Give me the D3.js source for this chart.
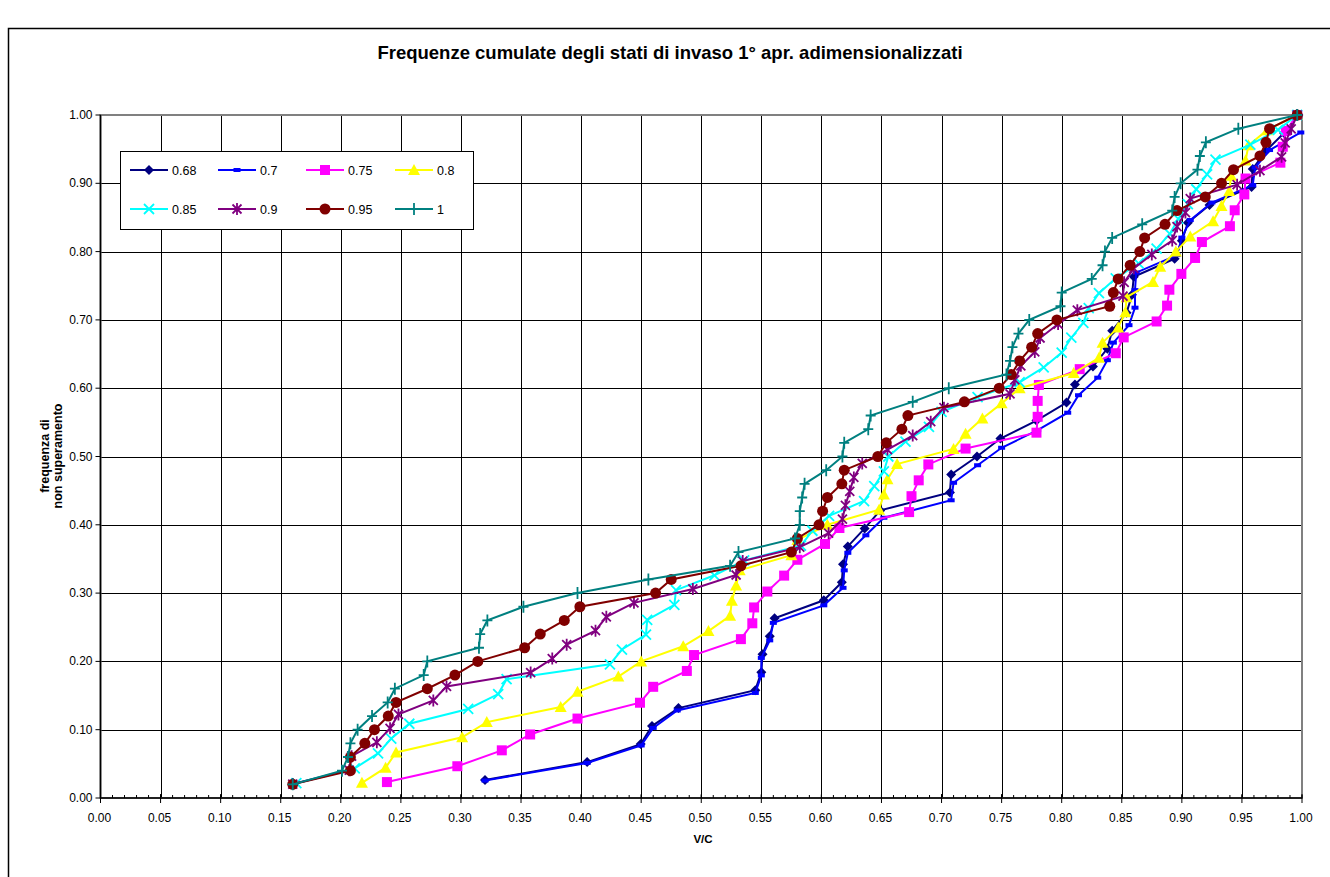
<!DOCTYPE html>
<html>
<head>
<meta charset="utf-8">
<script src="https://cdn.jsdelivr.net/npm/d3@7"></script>
<style>
  body { margin: 0; background: #fff; }
  svg { font-family: "Liberation Sans", Arial, sans-serif; }
</style>
</head>
<body>
<svg id="chart" width="1330" height="877"></svg>
<script>
// series legend names
const names = ['0.68', '0.7', '0.75', '0.8', '0.85', '0.9', '0.95', '1']

// [V/C, frequenza]
const s068 = [[0.32,0.0263],[0.405,0.0526],[0.4496,0.0789],[0.459,0.1053],[0.481,0.1316],[0.545,0.1579],[0.55,0.1842],[0.551,0.2105],[0.557,0.2368],[0.561,0.2632],[0.602,0.2895],[0.617,0.3158],[0.618,0.3421],[0.622,0.3684],[0.636,0.3947],[0.649,0.4211],[0.707,0.4474],[0.708,0.4737],[0.7295,0.5],[0.749,0.5263],[0.779,0.5526],[0.804,0.5789],[0.811,0.6053],[0.826,0.6316],[0.838,0.6579],[0.842,0.6842],[0.854,0.7105],[0.8585,0.7368],[0.86,0.7632],[0.894,0.7895],[0.9,0.8158],[0.905,0.8421],[0.923,0.8684],[0.958,0.8947],[0.959,0.9211],[0.97,0.9474],[0.985,0.9737],[0.997,1.0]]
const s070 = [[0.32,0.0256],[0.405,0.0513],[0.45,0.0769],[0.46,0.1026],[0.48,0.1282],[0.545,0.1538],[0.55,0.1795],[0.55,0.2051],[0.557,0.2308],[0.56,0.2564],[0.602,0.2821],[0.618,0.3077],[0.619,0.3333],[0.622,0.359],[0.637,0.3846],[0.652,0.4103],[0.708,0.4359],[0.71,0.4615],[0.73,0.4872],[0.75,0.5128],[0.78,0.5385],[0.805,0.5641],[0.814,0.5897],[0.83,0.6154],[0.838,0.641],[0.843,0.6667],[0.856,0.6923],[0.861,0.7179],[0.861,0.7436],[0.862,0.7692],[0.896,0.7949],[0.9,0.8205],[0.907,0.8462],[0.925,0.8718],[0.959,0.8974],[0.961,0.9231],[0.973,0.9487],[0.999,0.9744]]
const s075 = [[0.2384,0.0233],[0.297,0.0465],[0.334,0.0698],[0.3576,0.093],[0.397,0.1163],[0.449,0.1395],[0.46,0.1628],[0.488,0.186],[0.494,0.2093],[0.533,0.2326],[0.5425,0.2558],[0.544,0.279],[0.555,0.3023],[0.569,0.3256],[0.58,0.3488],[0.603,0.372],[0.615,0.3953],[0.673,0.4186],[0.675,0.4419],[0.681,0.4651],[0.689,0.4884],[0.72,0.5116],[0.779,0.5349],[0.78,0.5581],[0.78,0.5814],[0.781,0.6047],[0.815,0.6279],[0.845,0.6512],[0.8516,0.6744],[0.879,0.6977],[0.8877,0.7209],[0.8896,0.7442],[0.8996,0.7674],[0.911,0.7907],[0.9167,0.814],[0.94,0.8372],[0.944,0.8605],[0.952,0.8837],[0.953,0.907],[0.982,0.9302],[0.984,0.9535],[0.9866,0.9767],[0.996,1.0]]
const s080 = [[0.2176,0.0222],[0.2373,0.0444],[0.246,0.0667],[0.301,0.0889],[0.3215,0.1111],[0.383,0.1333],[0.397,0.1556],[0.431,0.1778],[0.45,0.2],[0.485,0.2222],[0.506,0.2444],[0.524,0.2667],[0.5255,0.2889],[0.529,0.3111],[0.532,0.3333],[0.575,0.3556],[0.58,0.3778],[0.605,0.4],[0.648,0.4222],[0.652,0.4444],[0.655,0.4667],[0.663,0.4889],[0.71,0.5111],[0.72,0.5333],[0.734,0.5556],[0.75,0.5778],[0.765,0.6],[0.81,0.6222],[0.831,0.6444],[0.834,0.6667],[0.847,0.6889],[0.853,0.7111],[0.854,0.7333],[0.876,0.7556],[0.882,0.7778],[0.895,0.8],[0.907,0.8222],[0.926,0.8444],[0.933,0.8667],[0.9395,0.8889],[0.941,0.9111],[0.953,0.9333],[0.9555,0.9556],[0.971,0.9778],[0.996,1.0]]
const s085 = [[0.163,0.0217],[0.2116,0.0435],[0.231,0.0652],[0.242,0.087],[0.257,0.1087],[0.306,0.1304],[0.331,0.1522],[0.338,0.1739],[0.424,0.1957],[0.434,0.2174],[0.454,0.2391],[0.455,0.2609],[0.4776,0.2826],[0.479,0.3043],[0.511,0.3261],[0.5357,0.3478],[0.583,0.3696],[0.5925,0.3913],[0.6064,0.413],[0.6355,0.4348],[0.644,0.4565],[0.652,0.4783],[0.6557,0.5],[0.67,0.5217],[0.6895,0.5435],[0.70,0.5652],[0.73,0.587],[0.765,0.6087],[0.785,0.6304],[0.80,0.6522],[0.808,0.6739],[0.818,0.6957],[0.8225,0.7174],[0.831,0.7391],[0.845,0.7609],[0.864,0.7826],[0.879,0.8043],[0.89,0.8261],[0.897,0.8478],[0.905,0.8696],[0.912,0.8913],[0.921,0.913],[0.928,0.9348],[0.957,0.9565],[0.98,0.9783],[0.996,1.0]]
const s090 = [[0.16,0.0204],[0.207,0.0408],[0.209,0.0612],[0.23,0.0816],[0.241,0.102],[0.248,0.1224],[0.277,0.1429],[0.288,0.1633],[0.358,0.1837],[0.376,0.2041],[0.388,0.2245],[0.412,0.2449],[0.421,0.2653],[0.444,0.2857],[0.493,0.3061],[0.529,0.3265],[0.5345,0.3469],[0.582,0.3673],[0.606,0.3878],[0.6175,0.4082],[0.62,0.4286],[0.6236,0.449],[0.627,0.4694],[0.634,0.4898],[0.655,0.5102],[0.676,0.5306],[0.691,0.551],[0.702,0.5714],[0.757,0.5918],[0.761,0.6122],[0.766,0.6327],[0.7776,0.6531],[0.782,0.6735],[0.797,0.6939],[0.813,0.7143],[0.851,0.7347],[0.852,0.7551],[0.86,0.7755],[0.875,0.7959],[0.892,0.8163],[0.896,0.8367],[0.903,0.8571],[0.907,0.8776],[0.946,0.898],[0.965,0.9184],[0.983,0.9388],[0.986,0.9592],[0.991,0.9796],[0.996,1.0]]
const s095 = [[0.16,0.02],[0.208,0.04],[0.208,0.06],[0.22,0.08],[0.228,0.1],[0.2395,0.12],[0.246,0.14],[0.272,0.16],[0.295,0.18],[0.314,0.2],[0.353,0.22],[0.366,0.24],[0.386,0.26],[0.399,0.28],[0.462,0.3],[0.475,0.32],[0.533,0.34],[0.575,0.36],[0.58,0.38],[0.598,0.4],[0.601,0.42],[0.605,0.44],[0.617,0.46],[0.619,0.48],[0.647,0.5],[0.654,0.52],[0.667,0.54],[0.672,0.56],[0.719,0.58],[0.748,0.6],[0.758,0.62],[0.765,0.64],[0.775,0.66],[0.78,0.68],[0.796,0.7],[0.84,0.72],[0.843,0.74],[0.847,0.76],[0.857,0.78],[0.865,0.8],[0.869,0.82],[0.886,0.84],[0.896,0.86],[0.9195,0.88],[0.933,0.9],[0.943,0.92],[0.965,0.94],[0.97,0.96],[0.973,0.98],[0.996,1.0]]
const s100 = [[0.16,0.02],[0.201,0.04],[0.206,0.06],[0.208,0.08],[0.214,0.1],[0.226,0.12],[0.239,0.14],[0.245,0.16],[0.269,0.18],[0.272,0.2],[0.315,0.22],[0.316,0.24],[0.322,0.26],[0.352,0.28],[0.397,0.3],[0.456,0.32],[0.524,0.34],[0.531,0.36],[0.578,0.38],[0.582,0.4],[0.582,0.42],[0.584,0.44],[0.586,0.46],[0.604,0.48],[0.6175,0.5],[0.619,0.52],[0.639,0.54],[0.641,0.56],[0.676,0.58],[0.706,0.6],[0.754,0.62],[0.757,0.64],[0.759,0.66],[0.764,0.68],[0.773,0.7],[0.799,0.72],[0.8,0.74],[0.825,0.76],[0.834,0.78],[0.836,0.8],[0.842,0.82],[0.867,0.84],[0.892,0.86],[0.894,0.88],[0.899,0.9],[0.913,0.92],[0.915,0.94],[0.92,0.96],[0.947,0.98],[0.996,1.0]]

const allSeries = [s068, s070, s075, s080, s085, s090, s095, s100]
const colors = ['#000080', '#0000ff', '#ff00ff', '#ffff00', '#00ffff', '#800080', '#800000', '#008080']
const shapes = ['diamond', 'dash', 'square', 'triangle', 'cross', 'star', 'circle', 'plus']

const xTicks = d3.range(0, 21).map(i => i * 0.05)
const yTicks = d3.range(0, 11).map(i => i * 0.1)

const svg = d3.select('#chart')

// outer chart border
svg.append('rect')
  .attr('x', 8.5).attr('y', 28.5)
  .attr('width', 1340).attr('height', 880)
  .attr('fill', 'none').attr('stroke', '#000').attr('stroke-width', 1.5)

svg.append('text')
  .attr('x', 670).attr('y', 59)
  .attr('text-anchor', 'middle')
  .attr('font-size', '18.5px').attr('font-weight', 'bold')
  .text('Frequenze cumulate degli stati di invaso 1° apr. adimensionalizzati')

const xScale = d3.scaleLinear().domain([0, 1]).range([100.5, 1302])
const yScale = d3.scaleLinear().domain([0, 1]).range([798, 115])

const plot = svg.append('g')

// grid
plot.selectAll('line.vgrid')
  .data(xTicks.slice(1, -1))
  .enter()
  .append('line')
  .attr('x1', d => Math.round(xScale(d)) + 0.5).attr('x2', d => Math.round(xScale(d)) + 0.5)
  .attr('y1', yScale(1)).attr('y2', yScale(0))
  .attr('stroke', '#000').attr('stroke-width', 1)

plot.selectAll('line.hgrid')
  .data(yTicks.slice(1, -1))
  .enter()
  .append('line')
  .attr('y1', d => Math.round(yScale(d)) + 0.5).attr('y2', d => Math.round(yScale(d)) + 0.5)
  .attr('x1', xScale(0)).attr('x2', xScale(1))
  .attr('stroke', '#000').attr('stroke-width', 1)

plot.append('rect')
  .attr('x', xScale(0)).attr('y', yScale(1))
  .attr('width', xScale(1) - xScale(0)).attr('height', yScale(0) - yScale(1))
  .attr('fill', 'none').attr('stroke', '#808080').attr('stroke-width', 2)

// x axis with minor ticks
const xAxis = svg.append('g').attr('transform', `translate(0,${yScale(0)})`)
xAxis.append('line')
  .attr('x1', xScale(0)).attr('x2', xScale(1))
  .attr('stroke', '#000').attr('stroke-width', 1.5)
xAxis.selectAll('line.minor')
  .data(d3.range(0, 101).map(i => i / 100))
  .enter()
  .append('line')
  .attr('x1', d => xScale(d)).attr('x2', d => xScale(d))
  .attr('y1', -3).attr('y2', 0)
  .attr('stroke', '#000')
xAxis.selectAll('line.major')
  .data(xTicks)
  .enter()
  .append('line')
  .attr('x1', d => xScale(d)).attr('x2', d => xScale(d))
  .attr('y1', -4).attr('y2', 5)
  .attr('stroke', '#000')
xAxis.selectAll('text')
  .data(xTicks)
  .enter()
  .append('text')
  .attr('x', d => xScale(d) - 1).attr('y', 24)
  .attr('text-anchor', 'middle').attr('font-size', '12px')
  .text(d => d.toFixed(2))

// y axis
const yAxis = svg.append('g').attr('transform', `translate(${xScale(0)},0)`)
yAxis.append('line')
  .attr('y1', yScale(0)).attr('y2', yScale(1))
  .attr('stroke', '#000').attr('stroke-width', 1.5)
yAxis.selectAll('line.tick')
  .data(yTicks)
  .enter()
  .append('line')
  .attr('y1', d => yScale(d)).attr('y2', d => yScale(d))
  .attr('x1', -5).attr('x2', 0)
  .attr('stroke', '#000')
yAxis.selectAll('text')
  .data(yTicks)
  .enter()
  .append('text')
  .attr('x', -8).attr('y', d => yScale(d) + 4)
  .attr('text-anchor', 'end').attr('font-size', '12px')
  .text(d => d.toFixed(2))

svg.append('text')
  .attr('x', 703).attr('y', 843)
  .attr('text-anchor', 'middle').attr('font-size', '11.5px').attr('font-weight', 'bold')
  .text('V/C')

const yTitle = svg.append('text')
  .attr('transform', 'translate(49,456) rotate(-90)')
  .attr('text-anchor', 'middle').attr('font-size', '12.5px').attr('font-weight', 'bold')
yTitle.append('tspan').attr('x', 0).attr('dy', 0).text('frequenza di')
yTitle.append('tspan').attr('x', 0).attr('dy', 13).text('non superamento')

// markers
function marker(g, shape, color) {
  if (shape === 'diamond') {
    g.append('path').attr('d', 'M0,-5L5,0L0,5L-5,0Z').attr('fill', color)
  } else if (shape === 'dash') {
    g.append('rect').attr('x', -3.5).attr('y', -2).attr('width', 7).attr('height', 4).attr('fill', color)
  } else if (shape === 'square') {
    g.append('rect').attr('x', -5).attr('y', -5).attr('width', 10).attr('height', 10).attr('fill', color)
  } else if (shape === 'triangle') {
    g.append('path').attr('d', 'M0,-6L6,5L-6,5Z').attr('fill', color)
  } else if (shape === 'cross') {
    g.append('path').attr('d', 'M-5,-5L5,5M-5,5L5,-5').attr('stroke', color).attr('stroke-width', 1.8)
  } else if (shape === 'star') {
    g.append('path').attr('d', 'M-4.5,-4.5L4.5,4.5M-4.5,4.5L4.5,-4.5M0,-6L0,6').attr('stroke', color).attr('stroke-width', 1.8)
  } else if (shape === 'circle') {
    g.append('circle').attr('r', 5.5).attr('fill', color)
  } else if (shape === 'plus') {
    g.append('path').attr('d', 'M-5,0L5,0M0,-6L0,6').attr('stroke', color).attr('stroke-width', 1.8)
  }
}

const line = d3.line().x(d => xScale(d[0])).y(d => yScale(d[1]))

allSeries.forEach((data, i) => {
  const g = svg.append('g')
  g.append('path')
    .datum(data)
    .attr('d', line)
    .attr('fill', 'none')
    .attr('stroke', colors[i])
    .attr('stroke-width', 2)
  g.selectAll('g.pt')
    .data(data)
    .enter()
    .append('g')
    .attr('transform', d => `translate(${xScale(d[0])},${yScale(d[1])})`)
    .each(function () { marker(d3.select(this), shapes[i], colors[i]) })
})

// legend
const legend = svg.append('g')
legend.append('rect')
  .attr('x', 120.5).attr('y', 151.5).attr('width', 353).attr('height', 78)
  .attr('fill', '#fff').attr('stroke', '#000').attr('stroke-width', 1)
const colX = [130, 218, 306, 395]
const rowY = [170, 209]
names.forEach((n, i) => {
  const x = colX[i % 4], y = rowY[Math.floor(i / 4)]
  const item = legend.append('g')
  item.append('line')
    .attr('x1', x).attr('x2', x + 38).attr('y1', y).attr('y2', y)
    .attr('stroke', colors[i]).attr('stroke-width', 2)
  marker(item.append('g').attr('transform', `translate(${x + 19},${y})`), shapes[i], colors[i])
  item.append('text')
    .attr('x', x + 42).attr('y', y + 4.5)
    .attr('font-size', '12.5px')
    .text(n)
})
</script>
</body>
</html>
